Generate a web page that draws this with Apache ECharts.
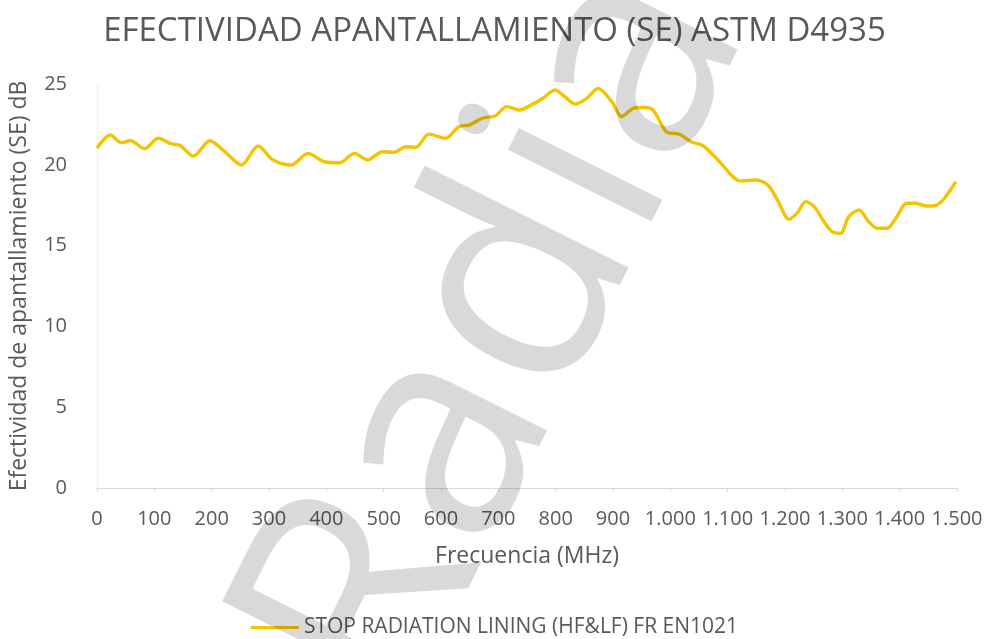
<!DOCTYPE html>
<html>
<head>
<meta charset="utf-8">
<script src="https://cdn.jsdelivr.net/npm/echarts@6/dist/echarts.min.js"></script>
<style>html,body{margin:0;padding:0;background:#fff}#c{width:989px;height:639px}</style>
</head>
<body>
<div id="c"></div>
<script>
var titleText = 'EFECTIVIDAD APANTALLAMIENTO (SE) ASTM D4935';
var xName = 'Frecuencia (MHz)';
var yName = 'Efectividad de apantallamiento (SE) dB';
var seriesName = 'STOP RADIATION LINING (HF&LF) FR EN1021';
var watermarkText = 'Radia';

var freq = [0,23,43,58,83,107,130,145,168,197,223,252,281,307,339,368,397,423,449,472,498,518,539,556,579,608,631,649,672,695,715,738,759,776,799,816,834,854,874,898,915,938,955,970,993,1016,1036,1057,1083,1123,1149,1170,1187,1207,1222,1236,1251,1268,1282,1297,1311,1329,1346,1361,1378,1395,1412,1427,1447,1464,1478,1498];
var se = [21.02,21.84,21.37,21.5,21.0,21.64,21.29,21.2,20.54,21.49,20.81,19.99,21.16,20.3,19.99,20.71,20.19,20.13,20.71,20.3,20.81,20.77,21.12,21.08,21.9,21.64,22.36,22.46,22.88,23.04,23.6,23.39,23.74,24.07,24.63,24.21,23.76,24.11,24.73,23.9,22.98,23.53,23.55,23.39,22.05,21.89,21.43,21.18,20.3,19.0,19.06,18.75,17.82,16.63,17.04,17.72,17.41,16.48,15.86,15.76,16.79,17.2,16.48,16.07,16.07,16.79,17.62,17.62,17.45,17.51,17.93,18.95];

var xMin = 0, xMax = 1500, xStep = 100;
var yMin = 0, yMax = 25, yStep = 5;

var data = freq.map(function (f, i) { return [f, se[i]]; });
function fmt(v) { return String(v).replace(/\B(?=(\d{3})+(?!\d))/g, '.'); }

var FONT = '"Open Sans", sans-serif';
var chart = echarts.init(document.getElementById('c'), null, {renderer: 'canvas'});
chart.setOption({
  animation: false,
  backgroundColor: '#ffffff',
  title: {
    text: titleText, left: 'center', top: 10,
    textStyle: {fontFamily: FONT, fontSize: 33, fontWeight: 'normal', color: '#595959'}
  },
  grid: {left: 93, right: 32, top: 84, bottom: 151, containLabel: false},
  legend: {
    bottom: -4, left: 'center', icon: 'rect', itemWidth: 48, itemHeight: 3, itemGap: 8,
    textStyle: {fontFamily: FONT, fontSize: 21, color: '#595959'},
    data: [seriesName]
  },
  xAxis: {
    type: 'value', min: xMin, max: xMax, interval: xStep,
    name: xName, nameLocation: 'middle', nameGap: 57,
    nameTextStyle: {fontFamily: FONT, fontSize: 23, color: '#595959'},
    axisLine: {show: true, lineStyle: {color: '#d9d9d9', width: 1}},
    axisTick: {show: true, length: 4, lineStyle: {color: '#d9d9d9'}},
    axisLabel: {fontFamily: FONT, fontSize: 20, color: '#595959', margin: 21, formatter: fmt},
    splitLine: {show: false}
  },
  yAxis: {
    type: 'value', min: yMin, max: yMax, interval: yStep,
    name: yName, nameLocation: 'middle', nameGap: 66, nameRotate: 90,
    nameTextStyle: {fontFamily: FONT, fontSize: 23, color: '#595959'},
    axisLine: {show: true, lineStyle: {color: '#eeeeee', width: 1}},
    axisTick: {show: false},
    axisLabel: {fontFamily: FONT, fontSize: 20, color: '#595959', margin: 30},
    splitLine: {show: false}
  },
  series: [{
    name: seriesName, type: 'line', data: data, smooth: 0.3,
    symbol: 'none', z: 3,
    lineStyle: {color: '#F5C400', width: 3.4},
    itemStyle: {color: '#F5C400'}
  }],
  graphic: [{
    type: 'text', x: 190, y: 618, rotation: 1.107, z: 100, silent: true,
    style: {text: watermarkText, font: 'normal 300px "Open Sans", sans-serif', fill: 'rgba(0,0,0,0.15)', textAlign: 'left', textVerticalAlign: 'alphabetic'}
  }]
});
</script>
</body>
</html>
